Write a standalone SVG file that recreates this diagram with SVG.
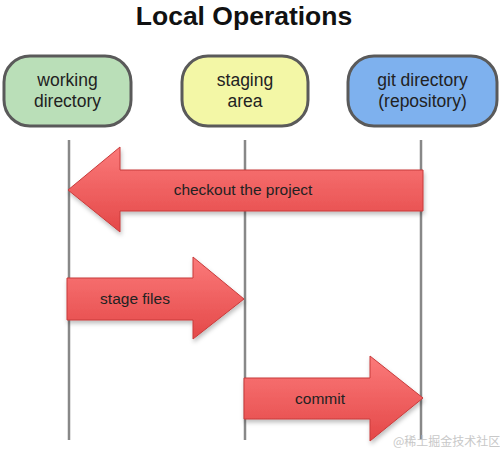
<svg xmlns="http://www.w3.org/2000/svg" width="500" height="460" viewBox="0 0 500 460">
<defs>
<linearGradient id="red" x1="0" y1="0" x2="0" y2="1">
<stop offset="0" stop-color="#fb7a7a"/>
<stop offset="1" stop-color="#e44848"/>
</linearGradient>
<filter id="sh" x="-10%" y="-10%" width="130%" height="140%">
<feDropShadow dx="1" dy="3" stdDeviation="2" flood-color="#000" flood-opacity="0.25"/>
</filter>
</defs>
<style>
.node{stroke:#5a5a5a;stroke-width:3}
.lbl{font-family:"Liberation Sans",Arial,sans-serif;font-size:17.5px;fill:#222;text-anchor:middle}
.life{stroke:#888;stroke-width:2.5;fill:none}
.arr{fill:url(#red);stroke:#c83a3a;stroke-width:1;filter:url(#sh)}
.alb{font-family:"Liberation Sans",Arial,sans-serif;font-size:15.5px;fill:#222;text-anchor:middle}
</style>
<rect width="500" height="460" fill="#fff"/>
<text x="244" y="25" font-family="Liberation Sans,Arial,sans-serif" font-size="26.5" font-weight="bold" text-anchor="middle" fill="#111">Local Operations</text>
<g id="lifelines">
<line class="life" x1="69" y1="140" x2="69" y2="440"/>
<line class="life" x1="245" y1="140" x2="245" y2="440"/>
<line class="life" x1="421" y1="140" x2="421" y2="440"/>
</g>
<g id="working-directory">
<rect class="node" x="4" y="56" width="127" height="70" rx="26" fill="#badfb8"/>
<text class="lbl" x="67.5" y="86">working</text>
<text class="lbl" x="67.5" y="107">directory</text>
</g>
<g id="staging-area">
<rect class="node" x="182" y="56" width="126" height="70" rx="26" fill="#f3f7a6"/>
<text class="lbl" x="245" y="86">staging</text>
<text class="lbl" x="245" y="107">area</text>
</g>
<g id="git-directory">
<rect class="node" x="348" y="56" width="149" height="70" rx="26" fill="#7eb1ee"/>
<text class="lbl" x="422.5" y="86">git directory</text>
<text class="lbl" x="422.5" y="107">(repository)</text>
</g>
<g id="connectors">
<g id="checkout">
<polygon class="arr" points="423,170 120,170 120,147 68,190 120,232 120,211 423,211"/>
<text class="alb" x="243" y="195">checkout the project</text>
</g>
<g id="stage">
<polygon class="arr" points="67,278 193,278 193,257 244,299 193,339 193,320 67,320"/>
<text class="alb" x="135" y="304">stage files</text>
</g>
<g id="commit">
<polygon class="arr" points="244,378 370,378 370,356 423,398 370,441 370,419 244,419"/>
<text class="alb" x="320" y="404">commit</text>
</g>
</g>
<text x="393" y="446" font-family="Noto Sans CJK SC,sans-serif" font-size="12" fill="#c8c8c8">@稀土掘金技术社区</text>
</svg>
